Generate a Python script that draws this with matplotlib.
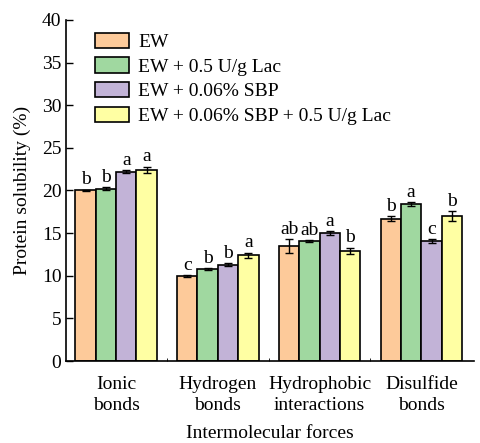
import numpy as np
import matplotlib.pyplot as plt

plt.rcParams['font.family'] = ['Liberation Serif', 'DejaVu Serif']

categories = ['Ionic\nbonds', 'Hydrogen\nbonds', 'Hydrophobic\ninteractions', 'Disulfide\nbonds']
treatments = ['EW', 'EW + 0.5 U/g Lac', 'EW + 0.06% SBP', 'EW + 0.06% SBP + 0.5 U/g Lac']
colors = ['#fdca9a', '#a0d8a0', '#c2b3d7', '#ffffa3']

# mean solubility per treatment (rows) and force type (columns)
means = [
    [20.0, 10.0, 13.5, 16.7],
    [20.2, 10.8, 14.1, 18.4],
    [22.2, 11.3, 15.0, 14.1],
    [22.4, 12.4, 12.9, 17.0],
]
errors = [
    [0.1, 0.1, 0.8, 0.3],
    [0.2, 0.1, 0.1, 0.2],
    [0.2, 0.2, 0.2, 0.2],
    [0.4, 0.3, 0.4, 0.6],
]
letters = [
    ['b', 'c', 'ab', 'b'],
    ['b', 'b', 'ab', 'a'],
    ['a', 'b', 'a', 'c'],
    ['a', 'a', 'b', 'b'],
]

fig = plt.figure(figsize=(4.8, 4.43), dpi=100)
ax = fig.add_axes([0.138, 0.185, 0.85, 0.77])

x = np.arange(len(categories))
w = 0.2
for i in range(len(treatments)):
    pos = x + (i - 1.5) * w
    ax.bar(pos, means[i], w, color=colors[i], edgecolor='black', linewidth=1.2,
           label=treatments[i], zorder=2)
    ax.errorbar(pos, means[i], yerr=errors[i], fmt='none', ecolor='black',
                elinewidth=1, capsize=3, capthick=1, zorder=3)
    for p, m, e, t in zip(pos, means[i], errors[i], letters[i]):
        ax.text(p, m + e + 0.15, t, ha='center', va='bottom', fontsize=14)

ax.set_xlim(-0.49, 3.52)
ax.set_ylim(0, 40)
ax.set_yticks(range(0, 41, 5))
ax.set_xticks(x)
ax.set_xticklabels(categories, fontsize=14, linespacing=1.3)
ax.set_xticks([0.5, 1.5, 2.5], minor=True)
ax.tick_params(axis='x', which='major', length=0, pad=11)
ax.tick_params(axis='x', which='minor', direction='in', length=2)
ax.tick_params(axis='y', direction='in', length=5, labelsize=14, width=1)
for s in ['top', 'right']:
    ax.spines[s].set_visible(False)
for s in ['left', 'bottom']:
    ax.spines[s].set_linewidth(1.2)

ax.set_ylabel('Protein solubility (%)', fontsize=14, labelpad=8)
ax.set_xlabel('Intermolecular forces', fontsize=14, labelpad=8)

ax.legend(loc='upper left', bbox_to_anchor=(0.04, 1.0), frameon=False, fontsize=14,
          handlelength=1.75, handleheight=0.85, labelspacing=0.32, handletextpad=0.45,
          borderaxespad=0.25)

fig.savefig('out.png', dpi=100)
